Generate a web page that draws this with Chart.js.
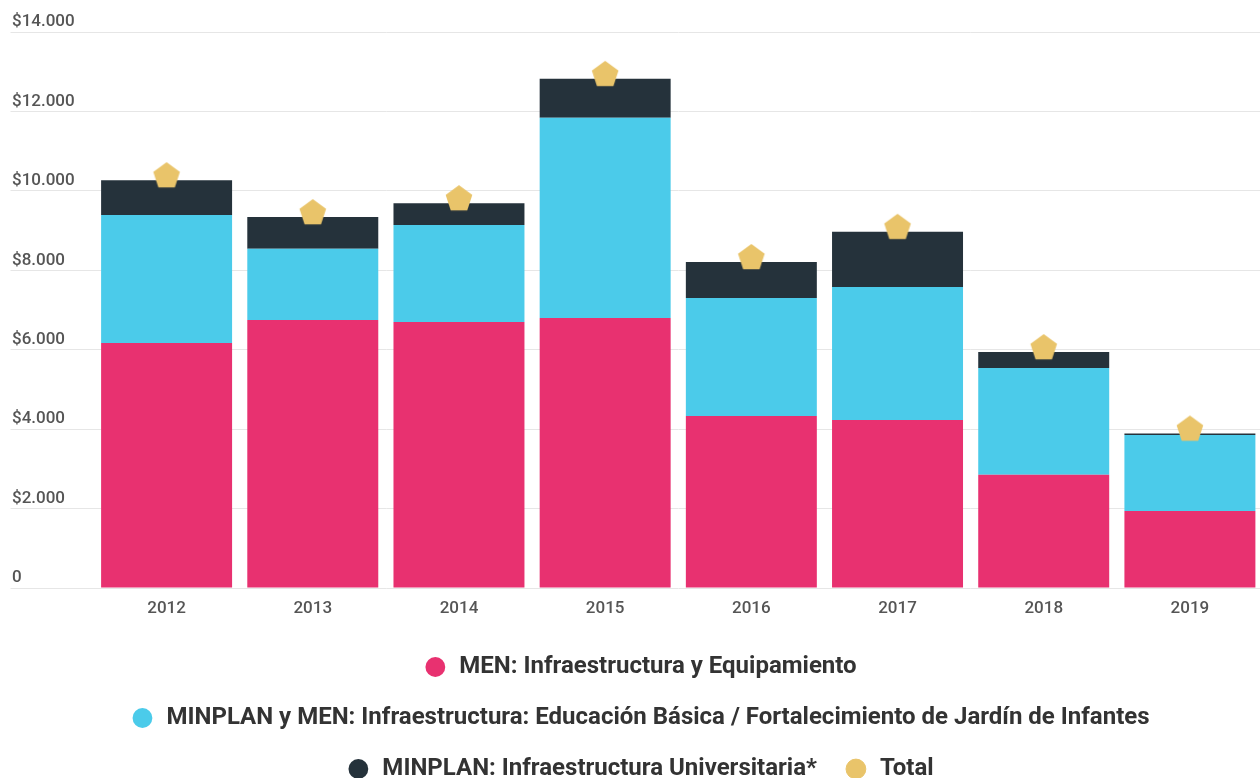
<!DOCTYPE html>
<html>
<head>
    <title>Inversión en infraestructura educativa</title>
    <style>
        html, body {
            margin: 0;
            padding: 0;
            background: #ffffff;
            overflow: hidden;
        }
        #chart-container {
            width: 1268px;
            height: 791px;
        }
    </style>
</head>
<body>
<div id="chart-container">
    <canvas id="chart" width="1268" height="791"></canvas>
</div>
<script src="https://cdn.jsdelivr.net/npm/chart.js"></script>
<script>
    // Years on the x axis
    const years = ['2012', '2013', '2014', '2015', '2016', '2017', '2018', '2019'];

    // Series values (millions of pesos)
    const menInfra = [6170, 6750, 6700, 6800, 4330, 4230, 2850, 1940];
    const minplanMen = [3220, 1790, 2440, 5040, 2970, 3350, 2690, 1910];
    const minplanUniv = [880, 800, 550, 980, 910, 1390, 400, 40];
    const totals = [10270, 9340, 9690, 12820, 8210, 8970, 5940, 3890];

    // Legend labels
    const seriesNames = [
      'MEN: Infraestructura y Equipamiento',
      'MINPLAN y MEN: Infraestructura: Educación Básica / Fortalecimiento de Jardín de Infantes',
      'MINPLAN: Infraestructura Universitaria*',
      'Total'
    ];

    const pink = '#E83170';
    const cyan = '#4BCBEA';
    const dark = '#25323B';
    const gold = '#E9C46A';

    // Pentagon marker for the totals (sits a little above the point)
    function makePentagon() {
      const c = document.createElement('canvas');
      c.width = 40;
      c.height = 40;
      const g = c.getContext('2d');
      const r = 14;
      g.fillStyle = gold;
      g.beginPath();
      for (let i = 0; i < 5; i++) {
        const a = -Math.PI / 2 + i * 2 * Math.PI / 5;
        const px = 20 + r * Math.cos(a);
        const py = 16 + r * Math.sin(a);
        if (i === 0) g.moveTo(px, py); else g.lineTo(px, py);
      }
      g.closePath();
      g.fill();
      return c;
    }

    const tickFont = { family: 'Roboto', size: 17, weight: '500' };

    const ctx = document.getElementById('chart').getContext('2d');
    const chart = new Chart(ctx, {
      type: 'bar',
      data: {
        labels: years,
        datasets: [
          { label: seriesNames[0], data: menInfra, backgroundColor: pink, order: 1 },
          { label: seriesNames[1], data: minplanMen, backgroundColor: cyan, order: 1 },
          { label: seriesNames[2], data: minplanUniv, backgroundColor: dark, order: 1 },
          {
            type: 'line',
            label: seriesNames[3],
            data: totals,
            stack: 'total',
            showLine: false,
            backgroundColor: gold,
            borderColor: gold,
            pointStyle: makePentagon(),
            order: 0
          }
        ]
      },
      options: {
        responsive: false,
        animation: false,
        datasets: {
          bar: {
            categoryPercentage: 1,
            barPercentage: 0.896
          }
        },
        layout: {
          padding: { top: 32, left: 12, right: 0, bottom: 0 }
        },
        scales: {
          x: {
            stacked: true,
            grid: { display: false },
            border: { display: false },
            ticks: {
              color: '#555',
              font: tickFont,
              padding: 3
            },
            afterFit: (scale) => { scale.height = 40; }
          },
          y: {
            stacked: true,
            min: 0,
            max: 14000,
            border: { display: false },
            grid: {
              color: '#e6e6e6',
              tickColor: '#e6e6e6',
              tickLength: 83
            },
            ticks: {
              stepSize: 2000,
              color: '#555',
              font: tickFont,
              crossAlign: 'far',
              labelOffset: -10,
              padding: 0,
              callback: (v) => v === 0 ? '0' : '$' + (v / 1000) + '.000'
            },
            afterFit: (scale) => { scale.width = 81.5; }
          }
        },
        plugins: {
          legend: {
            position: 'bottom',
            labels: {
              usePointStyle: true,
              pointStyle: 'circle',
              boxWidth: 28,
              boxHeight: 14,
              padding: 27,
              color: '#333',
              font: { family: 'Roboto', size: 24, weight: 'bold' },
              sort: (a, b) => a.datasetIndex - b.datasetIndex
            }
          },
          tooltip: { enabled: false }
        }
      }
    });
</script>
</body>
</html>
